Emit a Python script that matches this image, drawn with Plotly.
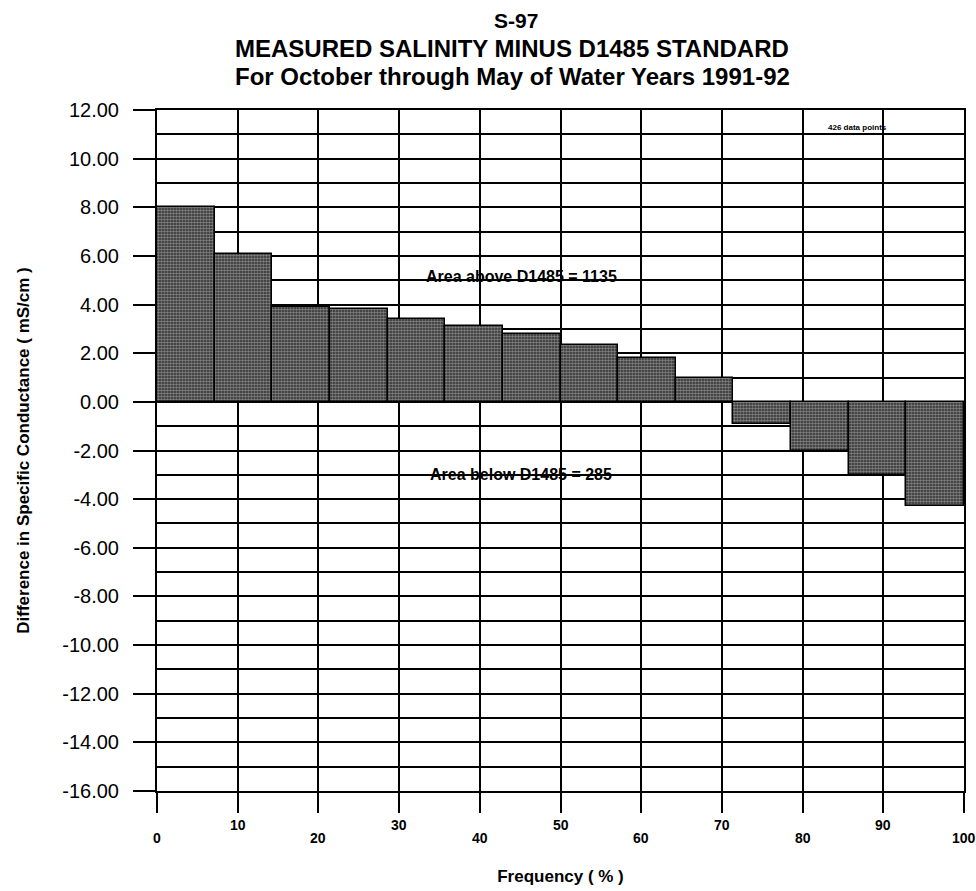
import plotly.graph_objects as go

# Exceedance-frequency bins (each 1/14 of the record, in percent)
bin_count = 14
bin_width = 100 / bin_count
bin_centers = [(i + 0.5) * bin_width for i in range(bin_count)]

# Measured salinity minus D1485 standard for each bin (mS/cm)
differences = [8.0, 6.1, 3.9, 3.8, 3.4, 3.1, 2.8, 2.35, 1.8, 1.0, -0.9, -2.0, -3.0, -4.3]

y_ticks = [12, 10, 8, 6, 4, 2, 0, -2, -4, -6, -8, -10, -12, -14, -16]
x_ticks = [0, 10, 20, 30, 40, 50, 60, 70, 80, 90, 100]

title_lines = [
    "S-97",
    "MEASURED SALINITY MINUS D1485 STANDARD",
    "For October through May of Water Years 1991-92",
]

area_above = 1135
area_below = 285
n_points = 426

FONT = "Liberation Sans, Arial, sans-serif"

PLOT_TOP, PLOT_BOTTOM = 110, 794          # pixel rows of the plot frame
PLOT_H = PLOT_BOTTOM - PLOT_TOP


def paper_y(px):
    """Convert a pixel row of the page into a paper y coordinate."""
    return (PLOT_BOTTOM - px) / PLOT_H


fig = go.Figure()
fig.add_trace(go.Bar(
    x=bin_centers,
    y=differences,
    width=bin_width,
    marker=dict(
        color="#1a1a1a",
        line=dict(color="black", width=1.5),
        pattern=dict(shape=".", fgcolor="#d6d6d6", bgcolor="#2a2a2a", size=3, solidity=0.6),
    ),
    showlegend=False,
    hoverinfo="skip",
))

annotations = []
# three-line heading
for text, row, size, xc in zip(title_lines, [20, 48, 76], [21, 24, 24], [0.445, 0.44, 0.44]):
    annotations.append(dict(
        x=xc, y=paper_y(row), xref="paper", yref="paper",
        text=f"<b>{text}</b>", showarrow=False, yanchor="middle", xanchor="center",
        font=dict(family=FONT, size=size, color="black"),
    ))

annotations += [
    dict(x=45.2, y=5.15, xref="x", yref="y", text=f"<b>Area above D1485 = {area_above}</b>",
         showarrow=False, font=dict(family=FONT, size=16, color="black")),
    dict(x=45.1, y=-3.0, xref="x", yref="y", text=f"<b>Area below D1485 = {area_below}</b>",
         showarrow=False, font=dict(family=FONT, size=16, color="black")),
    dict(x=86.8, y=11.3, xref="x", yref="y", text=f"<b>{n_points} data points</b>",
         showarrow=False, font=dict(family=FONT, size=8, color="black")),
]
# staggered frequency labels: odd tens sit higher than even tens
for t in x_ticks:
    high = (t // 10) % 2 == 1
    annotations.append(dict(
        x=t, y=paper_y(828 if high else 841), xref="x", yref="paper",
        text=f"<b>{t}</b>", showarrow=False, yanchor="middle",
        font=dict(family=FONT, size=14, color="black"),
    ))

fig.update_layout(
    width=976, height=891,
    margin=dict(l=157, r=10, t=PLOT_TOP, b=891 - PLOT_BOTTOM),
    paper_bgcolor="white",
    plot_bgcolor="white",
    bargap=0,
    annotations=annotations,
    xaxis=dict(
        range=[0, 100],
        tickvals=x_ticks,
        showticklabels=False,
        ticks="outside", ticklen=20, tickwidth=2, tickcolor="black",
        showgrid=True, gridcolor="black", gridwidth=1.8,
        showline=True, linecolor="black", linewidth=2, mirror=True,
        zeroline=False,
        title=dict(text="<b>Frequency ( % )</b>", standoff=58,
                   font=dict(family=FONT, size=17, color="black")),
    ),
    yaxis=dict(
        range=[-16, 12],
        tickvals=y_ticks,
        ticktext=[f"{v:.2f}" for v in y_ticks],
        ticks="outside", ticklen=22, tickwidth=2, tickcolor="black",
        ticklabelstandoff=10,
        tickfont=dict(family=FONT, size=20, color="black"),
        showgrid=True, gridcolor="black", gridwidth=1.8,
        minor=dict(dtick=1, showgrid=True, gridcolor="black", gridwidth=1.8, ticks=""),
        showline=True, linecolor="black", linewidth=2, mirror=True,
        zeroline=True, zerolinecolor="black", zerolinewidth=2,
        title=dict(text="<b>Difference in Specific Conductance ( mS/cm )</b>", standoff=28,
                   font=dict(family=FONT, size=17, color="black")),
    ),
)

fig.write_html("out.html")
